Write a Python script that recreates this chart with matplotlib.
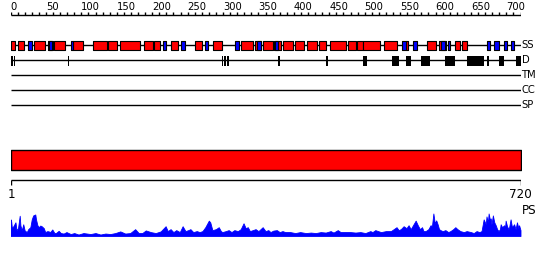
import matplotlib.pyplot as plt
import numpy as np

seq_len = 720
tracks = ["SS", "D", "TM", "CC", "SP"]

# secondary structure (start, end) in residues
helix = [(1, 7), (10, 19), (33, 48), (53, 60), (62, 77), (88, 103), (116, 136), (137, 151),
         (154, 183), (188, 201), (202, 211), (226, 237), (260, 271), (286, 299), (325, 342),
         (345, 354), (356, 370), (372, 382), (384, 399), (401, 414), (418, 432), (435, 446),
         (451, 473), (476, 488), (489, 497), (498, 521), (527, 546), (559, 561), (588, 601),
         (605, 615), (628, 635), (637, 645)]
strand = [(24, 31), (55, 59), (85, 88), (215, 220), (240, 246), (274, 279), (317, 323),
          (348, 353), (374, 378), (552, 559), (568, 574), (608, 613), (617, 621), (673, 677),
          (682, 689), (697, 701), (706, 711)]
disorder = [(1, 3), (5, 7), (81, 83), (281, 282), (298, 300), (302, 304), (306, 309),
            (378, 381), (445, 448), (497, 503), (538, 549), (559, 565), (580, 592),
            (614, 628), (644, 668), (673, 676), (690, 696), (713, 720)]

# PS profile (residue, score)
ps_res = [0, 1, 2, 4, 7, 8.5, 10.6, 13, 14, 16, 18, 20, 23, 25, 28, 30, 32, 35, 36, 38, 40, 42,
          44, 47, 49, 52, 54, 56, 59, 62, 64, 68, 71, 75, 79, 85, 90, 96, 103, 113, 120, 127,
          134, 141, 148, 155, 162, 169, 176, 181, 186, 191, 198, 205, 212, 219, 222, 226, 230,
          234, 239, 243, 247, 251, 254, 258, 263, 267, 271, 275, 280, 282, 285, 290, 294, 297,
          299, 304, 308, 312, 316, 321, 325, 329, 332, 335, 338, 342, 346, 350, 353, 356, 360,
          364, 367, 371, 376, 380, 384, 388, 395, 402, 409, 417, 424, 431, 438, 445, 452, 456,
          462, 466, 473, 480, 487, 494, 501, 508, 511, 515, 523, 530, 537, 541, 545, 548, 551,
          555, 559, 562, 565, 569, 572, 575, 578, 581, 583, 586, 590, 593, 595, 597, 599, 601,
          603, 605, 607, 610, 614, 618, 621, 625, 628, 631, 635, 640, 644, 650, 654, 658, 662,
          665, 668, 671, 672, 674, 675, 677, 678, 679, 681, 683, 685, 687, 689, 691, 692, 694,
          697, 698, 699, 701, 703, 704, 706, 708, 711, 713, 715, 717, 718, 720]
ps_score = [17, 15, 8, 10, 14, 6, 8, 20.7, 10.7, 6, 12, 5.7, 4, 7, 9, 17, 21, 22, 17, 11, 9,
            10.7, 10, 8, 4, 5, 4.7, 4, 6.7, 3, 3, 5.3, 3, 2.5, 4, 2, 3, 1.5, 3, 2, 3, 1.5, 2.5,
            2, 3, 4.7, 2.5, 3, 7, 3, 3, 5.7, 4, 3, 4.7, 10, 5, 7, 4, 6, 4, 10, 5, 6, 7, 4, 5, 4,
            5, 9, 15.7, 14, 6, 7, 9, 5, 4, 5, 6, 4, 6, 5, 7, 13, 8, 9, 5, 6, 7, 5, 7, 9, 5, 6, 4,
            5.5, 6, 4, 5, 4, 4, 3, 4, 3, 3.5, 3, 4, 3.5, 5, 3.5, 6, 4, 4, 4, 3.5, 4, 3, 5, 4, 6,
            4, 5, 5, 7, 9, 6, 7, 10, 8, 11, 7, 12, 15.7, 11, 7, 9, 5, 5, 7, 11, 10, 23, 13, 16,
            12, 7, 6, 5, 6, 4, 5, 7, 9, 7, 5, 4, 5, 4, 3, 5, 4, 5, 17, 12, 20, 14, 23, 16, 18,
            12, 21, 14, 11, 7, 5, 7, 12, 9, 11, 6, 15.7, 10, 7, 9, 17, 9, 12, 7, 14, 8, 11, 6]

fig = plt.figure(figsize=(5.5, 2.6), dpi=100)
left = 10.5 / 550
width = 510 / 550

# main panel, y in pixel rows
ax = fig.add_axes([left, 0, width, 1])
ax.set_xlim(0, seq_len)
ax.set_ylim(260, 0)
ax.axis("off")

# ruler on top
ax.hlines(15, 0, seq_len, color="black", lw=1)
ax.vlines(np.arange(0, seq_len + 1, 10), 12, 15, color="black", lw=1)
for t in range(0, 701, 50):
    ax.text(t, 7.5, str(t), fontsize=7.2, ha="left", va="center")

# feature tracks
track_y = [45, 60, 75, 90, 105]
for name, y in zip(tracks, track_y):
    ax.hlines(y, 0, seq_len, color="black", lw=1, zorder=1)
    ax.text(seq_len + 1.5, y, name, fontsize=7.2, ha="left", va="center")

ax.broken_barh([(s, e - s) for s, e in helix], (40.5, 9.5), facecolors="#ff0000",
               edgecolors="black", linewidth=0.8, zorder=2)
ax.broken_barh([(s, e - s) for s, e in strand], (40.5, 9.5), facecolors="#0000ff",
               edgecolors="black", linewidth=0.8, zorder=3)
ax.broken_barh([(s, e - s) for s, e in disorder], (55.5, 10), facecolors="black",
               linewidth=0, zorder=2)

# full length bar
ax.broken_barh([(0, seq_len)], (150, 20), facecolors="#ff0000", edgecolors="black", linewidth=1)

# bottom sequence axis
ax.hlines(180, 0, seq_len, color="black", lw=1)
ax.vlines([0, seq_len], 180, 184.5, color="black", lw=1)
ax.text(1, 195, "1", fontsize=8.6, ha="center", va="center")
ax.text(seq_len, 195, str(seq_len), fontsize=8.6, ha="center", va="center")
ax.text(seq_len + 1.5, 211, "PS", fontsize=8.6, ha="left", va="center")

# PS profile
ax2 = fig.add_axes([left, 24 / 260, width, 23 / 260])
ax2.fill_between(ps_res, ps_score, 0, color="#0000ff", lw=0.6)
ax2.set_xlim(0, seq_len)
ax2.set_ylim(0, 23.5)
ax2.axis("off")

plt.savefig("out.png", dpi=100)
